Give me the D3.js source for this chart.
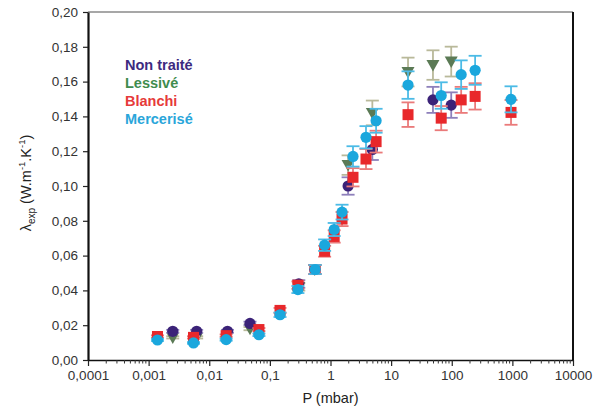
<!DOCTYPE html>
<html><head><meta charset="utf-8">
<script src="https://cdn.jsdelivr.net/npm/d3@7"></script>
<style>body{margin:0;background:#fff}svg{display:block}text{font-family:"Liberation Sans",Arial,sans-serif}</style>
</head><body><svg id="c" width="597" height="410"></svg>
<script>
// ---- data ----
const xTicks = [1e-4, 1e-3, 1e-2, 1e-1, 1, 10, 100, 1000, 10000];
const xTickLabels = ["0,0001","0,001","0,01","0,1","1","10","100","1000","10000"];
const yTicks = [0,0.02,0.04,0.06,0.08,0.10,0.12,0.14,0.16,0.18,0.20];
const yTickLabels = ["0,00","0,02","0,04","0,06","0,08","0,10","0,12","0,14","0,16","0,18","0,20"];
const seriesNames = ["Non traité","Lessivé","Blanchi","Mercerisé"];

const nonTraiteP = [0.0025, 0.0062, 0.02, 0.047, 0.3, 0.55, 1.95, 4.9, 49, 98];
const nonTraiteL = [0.0165, 0.0165, 0.0165, 0.021, 0.0437, 0.052, 0.100, 0.121, 0.1495, 0.1465];

const lessiveP = [0.0025, 0.0062, 0.047, 0.3, 0.55, 1.95, 4.9, 19, 49, 98];
const lessiveL = [0.013, 0.013, 0.018, 0.042, 0.052, 0.112, 0.142, 0.1655, 0.1695, 0.1715];

const blanchiP = [0.0014, 0.0055, 0.019, 0.066, 0.147, 0.29, 0.56, 0.8, 1.15, 1.55, 2.35, 3.85, 5.65, 19, 67, 143, 243, 950];
const blanchiL = [0.0135, 0.013, 0.014, 0.0175, 0.0285, 0.043, 0.052, 0.0625, 0.071, 0.081, 0.105, 0.1155, 0.1255, 0.141, 0.139, 0.1495, 0.1515, 0.1423];

const merceriseP = [0.0014, 0.0055, 0.019, 0.066, 0.147, 0.29, 0.56, 0.8, 1.15, 1.55, 2.35, 3.85, 5.65, 19, 67, 143, 243, 950];
const merceriseL = [0.0115, 0.0098, 0.0117, 0.0145, 0.026, 0.0405, 0.052, 0.066, 0.075, 0.085, 0.117, 0.128, 0.1375, 0.158, 0.152, 0.164, 0.1665, 0.1498];

const relErr = 0.05; // error bar half-length, fraction of value

// ---- layout / style ----
const W = 597, H = 410;
const m = {left: 88, right: 24, top: 12, bottom: 50};
const svg = d3.select("#c");
const x = d3.scaleLog().domain([1e-4, 1e4]).range([m.left, W - m.right]);
const y = d3.scaleLinear().domain([0, 0.2]).range([H - m.bottom, m.top]);

const styles = [
  {name: seriesNames[0], P: nonTraiteP, L: nonTraiteL, shape: "circle", fill: "#3b2278", bar: "#8e80bb", text: "#3d2a80"},
  {name: seriesNames[1], P: lessiveP, L: lessiveL, shape: "tri", fill: "#5b7a55", bar: "#b9b99a", text: "#3f8c4e"},
  {name: seriesNames[2], P: blanchiP, L: blanchiL, shape: "square", fill: "#e8282b", bar: "#ea7a7a", text: "#e63a3a"},
  {name: seriesNames[3], P: merceriseP, L: merceriseL, shape: "circle", fill: "#1aa7dd", bar: "#4cbbe6", text: "#2aa6da"}
];
const drawOrder = [1, 0, 2, 3];

// frame
svg.append("line").attr("x1", m.left).attr("x2", W - m.right).attr("y1", m.top).attr("y2", m.top)
  .attr("stroke", "#8a8a8a").attr("stroke-width", 1.5);
svg.append("line").attr("x1", W - m.right).attr("x2", W - m.right).attr("y1", m.top).attr("y2", H - m.bottom)
  .attr("stroke", "#111").attr("stroke-width", 2);

// axes
const xAxis = d3.axisBottom(x).tickValues(xTicks).tickFormat((d, i) => xTickLabels[i]).tickSize(6).tickSizeOuter(0);
const gx = svg.append("g").attr("transform", `translate(0,${H - m.bottom})`).call(xAxis);
gx.select(".domain").attr("stroke", "#111").attr("stroke-width", 1.5);
gx.selectAll(".tick line").attr("stroke", "#222").attr("stroke-width", 1.2);
gx.selectAll(".tick text").attr("font-size", 13.5).attr("fill", "#333").attr("y", 8).attr("dy", "0.9em");
// minor ticks
const minor = [];
for (let e = -4; e < 4; e++) for (let k = 2; k <= 9; k++) minor.push(k * Math.pow(10, e));
gx.selectAll(".minor").data(minor).enter().append("line")
  .attr("x1", d => x(d)).attr("x2", d => x(d)).attr("y1", 0).attr("y2", 3.5)
  .attr("stroke", "#333").attr("stroke-width", 1);

const yAxis = d3.axisLeft(y).tickValues(yTicks).tickFormat((d, i) => yTickLabels[i]).tickSize(5).tickSizeOuter(0);
const gy = svg.append("g").attr("transform", `translate(${m.left},0)`).call(yAxis);
gy.select(".domain").attr("stroke", "#111").attr("stroke-width", 2.2);
gy.selectAll(".tick line").attr("stroke", "#222").attr("stroke-width", 1.2);
gy.selectAll(".tick text").attr("font-size", 13.5).attr("fill", "#333").attr("x", -10);

// axis titles
svg.append("text").attr("x", x(1)).attr("y", 403).attr("text-anchor", "middle")
  .attr("font-size", 14.5).attr("fill", "#222").text("P (mbar)");
const yt = svg.append("text").attr("transform", `translate(31,${183}) rotate(-90)`)
  .attr("text-anchor", "middle").attr("font-size", 14.5).attr("fill", "#222");
yt.append("tspan").text("λ");
yt.append("tspan").attr("font-size", 10).attr("dy", 4).text("exp");
yt.append("tspan").attr("dy", -4).text(" (W.m");
yt.append("tspan").attr("font-size", 9.5).attr("dy", -6).text("-1");
yt.append("tspan").attr("dy", 6).text(".K");
yt.append("tspan").attr("font-size", 9.5).attr("dy", -6).text("-1");
yt.append("tspan").attr("dy", 6).text(")");

// data
const capW = 6.5;
drawOrder.forEach(si => {
  const s = styles[si];
  const pts = s.P.map((p, i) => ({p, v: s.L[i]}));
  const g = svg.append("g");
  pts.forEach(d => {
    const cx = x(d.p), lo = y(d.v * (1 - relErr)), hi = y(d.v * (1 + relErr));
    g.append("line").attr("x1", cx).attr("x2", cx).attr("y1", lo).attr("y2", hi).attr("stroke", s.bar).attr("stroke-width", 1.8);
    [lo, hi].forEach(yy => g.append("line").attr("x1", cx - capW).attr("x2", cx + capW).attr("y1", yy).attr("y2", yy)
      .attr("stroke", s.bar).attr("stroke-width", 1.8));
  });
  pts.forEach(d => {
    const cx = x(d.p), cy = y(d.v);
    if (s.shape === "circle") g.append("circle").attr("cx", cx).attr("cy", cy).attr("r", 5.6).attr("fill", s.fill);
    else if (s.shape === "square") g.append("rect").attr("x", cx - 5.5).attr("y", cy - 5.5).attr("width", 11).attr("height", 11).attr("fill", s.fill);
    else g.append("path").attr("d", `M${cx - 6.5},${cy - 5} L${cx + 6.5},${cy - 5} L${cx},${cy + 6.5} Z`).attr("fill", s.fill);
  });
});

// legend
styles.forEach((s, i) => {
  svg.append("text").attr("x", 125).attr("y", 70 + i * 18).attr("font-size", 14.5).attr("font-weight", "bold")
    .attr("fill", s.text).text(s.name);
});
</script></body></html>
